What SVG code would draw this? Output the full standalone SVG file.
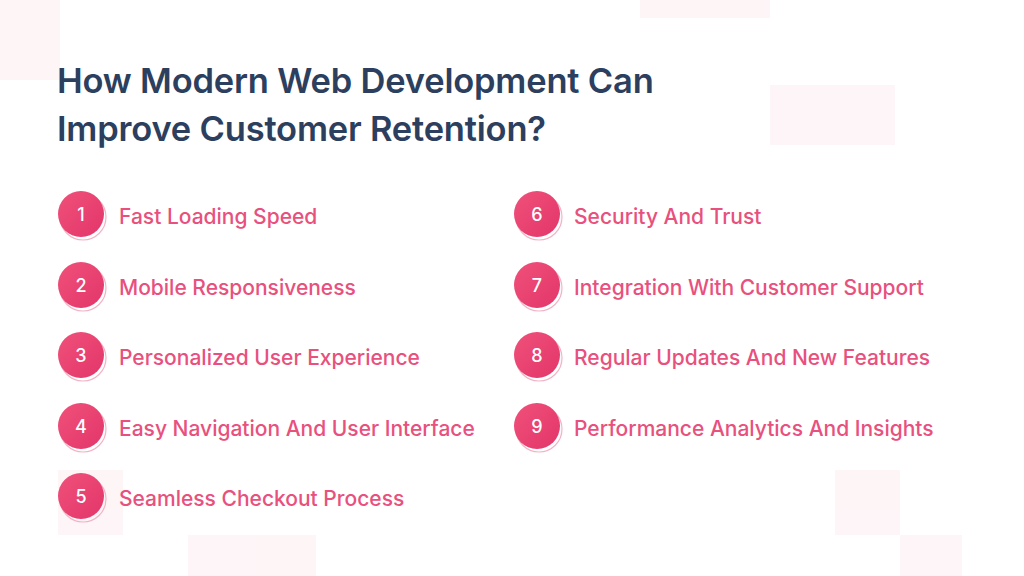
<svg xmlns="http://www.w3.org/2000/svg" width="1024" height="576" viewBox="0 0 1024 576">
<defs>
<linearGradient id="g" x1="0" y1="0" x2="1" y2="1"><stop offset="0" stop-color="#f0517a"/><stop offset="1" stop-color="#e2356a"/></linearGradient>
<style>
.t{font-family:Inter,"Liberation Sans",sans-serif;font-size:21px;font-weight:500;fill:#e8507e}
.n{font-family:Inter,"Liberation Sans",sans-serif;font-size:18px;font-weight:500;fill:#fff;text-anchor:middle}
.h{font-family:Inter,"Liberation Sans",sans-serif;font-size:34.5px;font-weight:600;fill:#2d3f5e;letter-spacing:-0.2px}
.c{fill:url(#g)}
.o{fill:none;stroke:#f3b3c6;stroke-width:1.2}
.bg{fill:#fdf1f4}
</style>
</defs>
<rect width="1024" height="576" fill="#fff"/>
<g opacity="0.7">
<rect class="bg" x="0" y="0" width="60" height="80"/>
<rect class="bg" x="640" y="0" width="130" height="18"/>
<rect class="bg" x="770" y="85" width="125" height="60"/>
<rect class="bg" x="58" y="470" width="65" height="65"/>
<rect class="bg" x="188" y="535" width="128" height="41"/>
<rect class="bg" x="835" y="470" width="65" height="65"/>
<rect class="bg" x="900" y="535" width="62" height="41"/>
</g>
<text class="h" x="57" y="93">How Modern Web Development Can</text>
<text class="h" x="57" y="141">Improve Customer Retention?</text>
<g id="n1"><circle class="o" cx="83" cy="217" r="23"/><circle class="c" cx="81" cy="214" r="23"/><text class="n" x="81" y="221">1</text><text class="t" x="119" y="224">Fast Loading Speed</text></g>
<g id="n2"><circle class="o" cx="83" cy="288" r="23"/><circle class="c" cx="81" cy="285" r="23"/><text class="n" x="81" y="292">2</text><text class="t" x="119" y="295">Mobile Responsiveness</text></g>
<g id="n3"><circle class="o" cx="83" cy="358" r="23"/><circle class="c" cx="81" cy="355" r="23"/><text class="n" x="81" y="362">3</text><text class="t" x="119" y="365">Personalized User Experience</text></g>
<g id="n4"><circle class="o" cx="83" cy="429" r="23"/><circle class="c" cx="81" cy="426" r="23"/><text class="n" x="81" y="433">4</text><text class="t" x="119" y="436">Easy Navigation And User Interface</text></g>
<g id="n5"><circle class="o" cx="83" cy="499" r="23"/><circle class="c" cx="81" cy="496" r="23"/><text class="n" x="81" y="503">5</text><text class="t" x="119" y="506">Seamless Checkout Process</text></g>
<g id="n6"><circle class="o" cx="539" cy="217" r="23"/><circle class="c" cx="537" cy="214" r="23"/><text class="n" x="537" y="221">6</text><text class="t" x="574" y="224">Security And Trust</text></g>
<g id="n7"><circle class="o" cx="539" cy="288" r="23"/><circle class="c" cx="537" cy="285" r="23"/><text class="n" x="537" y="292">7</text><text class="t" x="574" y="295">Integration With Customer Support</text></g>
<g id="n8"><circle class="o" cx="539" cy="358" r="23"/><circle class="c" cx="537" cy="355" r="23"/><text class="n" x="537" y="362">8</text><text class="t" x="574" y="365">Regular Updates And New Features</text></g>
<g id="n9"><circle class="o" cx="539" cy="429" r="23"/><circle class="c" cx="537" cy="426" r="23"/><text class="n" x="537" y="433">9</text><text class="t" x="574" y="436">Performance Analytics And Insights</text></g>
<g id="connectors"/>
</svg>
